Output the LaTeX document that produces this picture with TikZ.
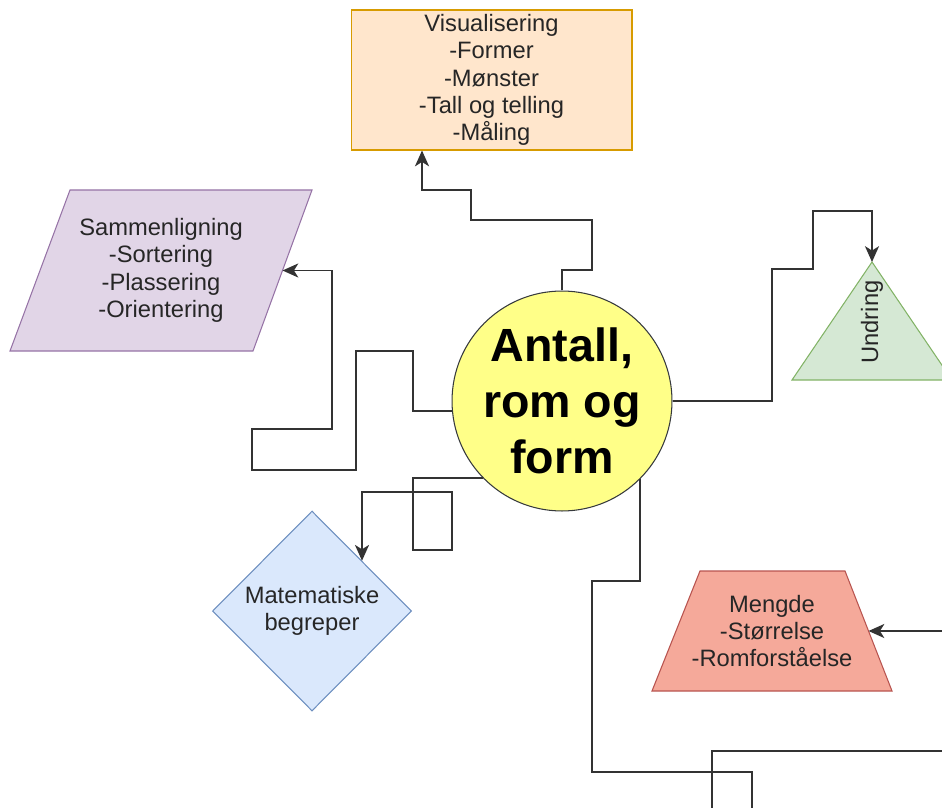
\documentclass[tikz,border=0pt]{standalone}
\usepackage{fontspec}
\setmainfont{Liberation Sans}
\usetikzlibrary{shapes.geometric,arrows.meta}

\definecolor{visfill}{HTML}{FFE6CC}
\definecolor{visline}{HTML}{D79B00}
\definecolor{samfill}{HTML}{E1D5E7}
\definecolor{samline}{HTML}{9673A6}
\definecolor{aprfill}{HTML}{FFFF88}
\definecolor{aprline}{HTML}{36393D}
\definecolor{undfill}{HTML}{D5E8D4}
\definecolor{undline}{HTML}{82B366}
\definecolor{matfill}{HTML}{DAE8FC}
\definecolor{matline}{HTML}{6C8EBF}
\definecolor{menfill}{HTML}{F5A99A}
\definecolor{menline}{HTML}{B85450}

\tikzset{
  box/.style={draw, line width=0.6pt, inner sep=0pt, align=center, text=black!85,
    font=\fontsize{13.5}{15.6}\selectfont},
  label/.style={box, draw=none},
  conn/.style={line width=1.1pt, draw=black!80},
  arr/.style={conn, -{Stealth[length=9pt,width=8pt,inset=2.5pt]}},
}

\begin{document}
\begin{tikzpicture}[x=0.02cm, y=-0.02cm]
  \useasboundingbox (0,0) rectangle (942,807);

  % hub
  \node[circle, draw=aprline, fill=aprfill, line width=0.6pt, minimum size=4.4cm,
    inner sep=0pt, align=center, font=\fontsize{26.5}{31.75}\selectfont\bfseries]
    (apr) at (562,401) {Antall,\\rom og\\form};

  % shapes round it
  \node[box, draw=visline, fill=visfill, minimum width=5.62cm, minimum height=2.8cm]
    (vis) at (491.5,80) {Visualisering\\-Former\\-Mønster\\-Tall og telling\\-Måling};

  \filldraw[draw=samline, fill=samfill, line width=0.6pt]
    (10,351) -- (70,190) -- (312,190) -- (253,351) -- cycle;
  \node[label] (sam) at (161,270.5) {Sammenligning\\-Sortering\\-Plassering\\-Orientering};
  \coordinate (samE) at (282.5,270.5);

  \filldraw[draw=undline, fill=undfill, line width=0.6pt]
    (792,380) -- (872,262) -- (952,380) -- cycle;
  \node[label, rotate=90] (und) at (872,322) {Undring};
  \coordinate (undTop) at (872,262);

  \node[box, diamond, draw=matline, fill=matfill, minimum width=3.98cm, minimum height=4cm]
    (mat) at (312,611) {Matematiske\\begreper};

  \filldraw[draw=menline, fill=menfill, line width=0.6pt]
    (652,691) -- (700,571) -- (845,571) -- (892,691) -- cycle;
  \node[label] (men) at (772,631) {Mengde\\-Størrelse\\-Romforståelse};
  \coordinate (menE) at (868.5,631);

  % loose ends
  \coordinate (bot1) at (752,815);
  \coordinate (bot2) at (712,815);
  \coordinate (rgt1) at (950,751);
  \coordinate (rgt2) at (950,631);

  % connectors
  \draw[arr] (apr.north) |- (592,270) |- (471,220) |- (422,190) -- (422,0 |- vis.south);
  \draw[arr] (apr.east) -| (772,269) -| (813,211) -| (undTop);
  \draw[arr] (apr.185) -| (413,351) -| (356,470) -| (252,429) -- (332,429) |- (samE);
  \draw[arr] (apr.224) -| (413,550) -| (452,492) -| (mat.north east);
  \draw[conn] (apr.-45) |- (592,581) |- (752,772) -- (bot1);
  \draw[conn] (bot2) |- (rgt1);
  \draw[arr] (rgt2) -- (menE);
\end{tikzpicture}
\end{document}
